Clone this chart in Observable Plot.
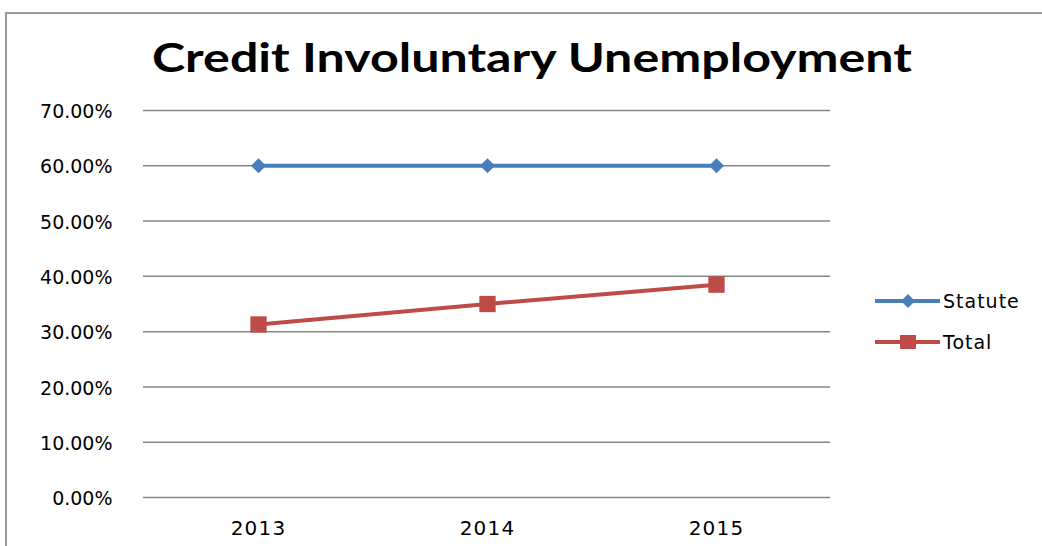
<!DOCTYPE html>
<html>
<head>
<meta charset="utf-8">
<script src="https://cdn.jsdelivr.net/npm/d3@7"></script>
<script src="https://cdn.jsdelivr.net/npm/@observablehq/plot@0.6"></script>
<style>
  html, body { margin: 0; padding: 0; background: #fff; width: 1042px; height: 546px; overflow: hidden; }
  #frame { position: absolute; left: 5px; top: 12px; width: 1100px; height: 600px;
           border-left: 2px solid #9a9a9a; border-top: 2px solid #9a9a9a; pointer-events: none; }
  #title { display: block; }
  #legend { position: absolute; left: 0; top: 0; }
  #chart svg { display: block; }
</style>
</head>
<body>
<div id="frame"></div>
<svg id="title" width="1042" height="92"></svg>
<div id="chart"></div>
<svg id="legend" width="1042" height="546"></svg>
<script>
const titleText = "Credit Involuntary Unemployment";
const years = ["2013", "2014", "2015"];
const statute = [0.60, 0.60, 0.60];
const total = [0.313, 0.350, 0.385];
const seriesNames = ["Statute", "Total"];
const seriesColors = ["#4a7ebb", "#be4b48"];
const yTicks = [0, 0.1, 0.2, 0.3, 0.4, 0.5, 0.6, 0.7];

const rows = [
  ...years.map((yr, i) => ({year: yr, value: statute[i], series: "Statute"})),
  ...years.map((yr, i) => ({year: yr, value: total[i], series: "Total"}))
];

const font = "'DejaVu Sans', sans-serif";

// Title
const t = d3.select("#title");
t.append("text")
  .attr("x", 532).attr("y", 72)
  .attr("text-anchor", "middle")
  .attr("textLength", 760).attr("lengthAdjust", "spacingAndGlyphs")
  .style("font-family", "Lato, 'Open Sans', sans-serif")
  .style("font-weight", "bold").style("font-size", "40px").style("fill", "#000")
  .text(titleText);

const plot = Plot.plot({
  width: 1042,
  height: 454,
  marginLeft: 143,
  marginRight: 212,
  marginTop: 18,
  marginBottom: 49,
  style: {fontFamily: font, fontSize: "19px", color: "#000", background: "transparent"},
  x: {type: "point", domain: years, padding: 0.5, align: 0.5, label: null},
  y: {domain: [0, 0.7], label: null},
  color: {domain: seriesNames, range: seriesColors},
  marks: [
    Plot.ruleY(yTicks, {stroke: "#868686", strokeWidth: 1.5}),
    Plot.axisY(yTicks, {tickFormat: d3.format(".2%"), tickSize: 0, tickPadding: 31, label: null,
      fontSize: 19, fill: "#000", dy: 1.5}),
    Plot.axisX(years, {tickSize: 0, tickPadding: 23, label: null, fontSize: 20, fill: "#000"}),
    Plot.line(rows, {x: "year", y: "value", z: "series", stroke: "series", strokeWidth: 4}),
    Plot.dot(rows.filter(d => d.series === "Statute"), {x: "year", y: "value", symbol: "diamond2", r: 6.8, fill: seriesColors[0], stroke: "none"}),
    Plot.dot(rows.filter(d => d.series === "Total"), {x: "year", y: "value", symbol: "square", r: 9.2, fill: seriesColors[1], stroke: "none"})
  ]
});
document.getElementById("chart").appendChild(plot);
d3.select(plot).selectAll("[aria-label='x-axis tick label'] text").style("letter-spacing", "1.2px");

// Legend
const lg = d3.select("#legend");
const legendY = [301, 342];
seriesNames.forEach((name, i) => {
  const g = lg.append("g").attr("transform", `translate(875,${legendY[i]})`);
  g.append("line").attr("x1", 0).attr("x2", 65).attr("y1", 0).attr("y2", 0)
    .attr("stroke", seriesColors[i]).attr("stroke-width", 4);
  if (i === 0) {
    g.append("path").attr("d", "M33,-7L40,0L33,7L26,0Z").attr("fill", seriesColors[i]);
  } else {
    g.append("rect").attr("x", 25).attr("y", -7).attr("width", 16).attr("height", 14).attr("fill", seriesColors[i]);
  }
  g.append("text").attr("x", 68).attr("y", 0).attr("dy", "0.36em")
    .style("font-family", font).style("font-size", "19px").style("letter-spacing", "1px")
    .style("fill", "#000").text(name);
});
</script>
</body>
</html>
